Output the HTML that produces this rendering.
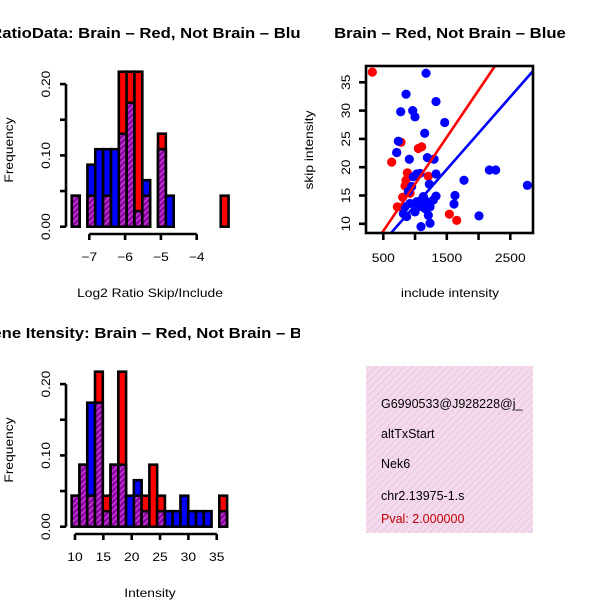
<!DOCTYPE html>
<html><head><meta charset="utf-8"><style>
html,body{margin:0;padding:0;background:#fff;}
svg{display:block;font-family:"Liberation Sans",sans-serif;}
</style></head><body>
<svg id="s" width="600" height="600" xmlns="http://www.w3.org/2000/svg">
<defs>
<pattern id="hatch" width="4" height="4" patternUnits="userSpaceOnUse" patternTransform="rotate(45)">
<rect width="4" height="4" fill="#8c00a8"/><rect width="1.5" height="4" fill="#c040c8"/>
</pattern>
<pattern id="pinkhatch" width="5" height="5" patternUnits="userSpaceOnUse" patternTransform="rotate(45)">
<rect width="5" height="5" fill="#f8d8f0"/><rect width="1.2" height="5" fill="#e0d0d8"/>
</pattern>
<clipPath id="c1"><rect x="0" y="0" width="300" height="300"/></clipPath>
<clipPath id="c3"><rect x="0" y="300" width="300" height="300"/></clipPath>
<clipPath id="cs"><rect x="366" y="66" width="167" height="167"/></clipPath>
<clipPath id="cb"><rect x="366" y="366" width="167" height="167"/></clipPath>
</defs>
<g id="p1" clip-path="url(#c1)"></g>
<g id="p2"></g>
<g id="p3" clip-path="url(#c3)"></g>
<g id="p4">
<rect x="366" y="366" width="167" height="167" fill="url(#pinkhatch)"/>
<g clip-path="url(#cb)" font-size="12.5">
<text x="381" y="408" class="noscale">G6990533@J928228@j_</text>
<text x="381" y="438" class="noscale">altTxStart</text>
<text x="381" y="468" class="noscale">Nek6</text>
<text x="381" y="500" class="noscale">chr2.13975-1.s</text>
<text x="381" y="523" class="noscale" fill="#c00000">Pval: 2.000000</text>
</g>
</g>
</svg>
<script>
// ---- Histogram 1 data (Log2 ratio) ----
const h1Start = -7.49, h1Width = 0.219;
const h1Red  = [1,0,1,0,1,0,5,5,5,1,0,3,0,0,0,0,0,0,0,1];
const h1Blue = [2,0,4,5,5,5,6,8,1,3,0,5,2,0,0,0,0,0,0,0];
const h1XTicks = [-7,-6,-5,-4];
const hYTicks = [0,0.05,0.10,0.15,0.20];
const hYLabels = ["0.00","","0.10","","0.20"];
// ---- Histogram 2 data (Intensity) ----
const h2Start = 9.42, h2Width = 1.37;
const h2Red  = [1,2,1,5,1,2,5,0,1,1,2,1,0,0,0,0,0,0,0,1];
const h2Blue = [2,4,8,8,1,4,4,2,3,1,0,1,1,1,2,1,1,1,0,1];
const h2XTicks = [10,15,20,25,30,35];
const nRed = 23, nBlue = 46;
// ---- Scatter data ----
const redX = [327,779,711,632,1052,1104,879,858,842,1209,805,721,1540,1656,921];
const redY = [36.8,24.4,22.6,20.9,23.3,23.6,19.0,17.7,16.7,18.4,14.7,13.0,11.7,10.6,15.4];
const blueX = [1173,858,1330,774,963,999,1467,1152,737,711,910,1194,1299,1330,2170,2270,1771,2769,1225,1629,1614,1330,973,1026,1078,947,894,1131,1026,921,842,816,1236,1209,1236,1094,2007,1157,1052,999,868,1104,1183,1288];
const blueY = [36.6,32.9,31.6,29.8,30.0,28.9,27.9,26.0,24.6,22.6,21.4,21.7,21.4,18.8,19.5,19.5,17.7,16.8,17.0,15.0,13.5,14.9,18.3,18.8,18.9,16.6,15.7,14.8,13.9,13.6,13.0,11.8,13.0,11.5,10.1,9.5,11.4,12.7,13.0,12.1,11.3,14.2,13.9,14.2];
const redLine = [0.44, 0.01658];
const blueLine = [0.42, 0.0128];
const sXTicks = [500,1000,1500,2000,2500];
const sXLabels = ["500","","1500","","2500"];
const sYTicks = [10,15,20,25,30,35];

const NS="http://www.w3.org/2000/svg";
function mk(parent,tag,attrs,text){const e=document.createElementNS(NS,tag);for(const k in attrs)e.setAttribute(k,attrs[k]);if(text!==undefined)e.textContent=text;parent.appendChild(e);return e;}

function hist(g, oy, start, w, red, blue, xTicks, x0v, x0p, pxPer, xLabel, title, titleX, name){
  const base = oy+226.7;
  const x = v => x0p + (v - x0v) * pxPer;
  const y = v => base - v*713;
  const tt=mk(g,'text',{x:titleX,y:oy+38,'text-anchor':'middle','font-size':'14.5','font-weight':'bold'},title);
  
  for(let i=0;i<red.length;i++){
    const r=red[i]/nRed, b=blue[i]/nBlue;
    if(r===0&&b===0) continue;
    const xa=x(start+i*w), xb=x(start+(i+1)*w);
    const hi=Math.max(r,b), lo=Math.min(r,b);
    const big=mk(g,'rect',{x:xa,y:y(hi),width:xb-xa,height:base-y(hi),fill:r>=b?'#ff0000':'#0000ff',stroke:'#000','stroke-width':2.6});
    
    
    if(lo>0){
      const p=mk(g,'rect',{x:xa,y:y(lo),width:xb-xa,height:base-y(lo),fill:'url(#hatch)',stroke:'#000','stroke-width':2.6});
      
      
    }
  }
  mk(g,'line',{x1:66,x2:66,y1:y(0),y2:y(0.2),stroke:'#000','stroke-width':2.6});
  hYTicks.forEach((t,i)=>{
    mk(g,'line',{x1:60,x2:66,y1:y(t),y2:y(t),stroke:'#000','stroke-width':2.6});
    if(hYLabels[i]) mk(g,'text',{x:0,y:0,transform:`translate(50,${y(t)}) rotate(-90)`,'text-anchor':'middle','font-size':'12'},hYLabels[i]);
  });
  mk(g,'text',{x:0,y:0,transform:`translate(13,${oy+150}) rotate(-90)`,'text-anchor':'middle','font-size':'12'},'Frequency');
  const ay=oy+234;
  mk(g,'line',{x1:x(xTicks[0]),x2:x(xTicks[xTicks.length-1]),y1:ay,y2:ay,stroke:'#000','stroke-width':2.6});
  xTicks.forEach(t=>{
    mk(g,'line',{x1:x(t),x2:x(t),y1:ay,y2:ay+6,stroke:'#000','stroke-width':2.6});
    mk(g,'text',{x:x(t),y:oy+261,'text-anchor':'middle','font-size':'12'},String(t).replace('-','\u2212'));
  });
  mk(g,'text',{x:150,y:oy+297,'text-anchor':'middle','font-size':'12'},xLabel);
}
hist(document.getElementById('p1'),0,h1Start,h1Width,h1Red,h1Blue,h1XTicks,-7,89.3,35.8,'Log2 Ratio Skip/Include','RatioData: Brain \u2013 Red, Not Brain \u2013 Blue',150,'ratio-hist');
hist(document.getElementById('p3'),300,h2Start,h2Width,h2Red,h2Blue,h2XTicks,10,75,5.67,'Intensity','Exon/Gene Itensity: Brain \u2013 Red, Not Brain \u2013 Blue',130,'intensity-hist');

(function(){
  const g=document.getElementById('p2');
  const sx=v=>383.3+(v-500)*0.0635;
  const sy=v=>82.3-(v-35)*5.66;
  mk(g,'text',{x:450,y:38,'text-anchor':'middle','font-size':'14.5','font-weight':'bold'},'Brain \u2013 Red, Not Brain \u2013 Blue');
  const pts=mk(g,'g',{'clip-path':'url(#cs)'});
  for(let i=0;i<redX.length;i++){
    const c=mk(pts,'circle',{cx:sx(redX[i]),cy:sy(redY[i]),r:4.6,fill:'#ff0000'});
    
    
  }
  for(let i=0;i<blueX.length;i++){
    const c=mk(pts,'circle',{cx:sx(blueX[i]),cy:sy(blueY[i]),r:4.6,fill:'#0000ff'});
    
    
  }
  [[redLine,'#ff0000','brain-fit-line'],[blueLine,'#0000ff','not-brain-fit-line']].forEach(([l,col,nm])=>{
    const a=200,b=3000;
    const ln=mk(pts,'line',{x1:sx(a),y1:sy(l[0]+l[1]*a),x2:sx(b),y2:sy(l[0]+l[1]*b),stroke:col,'stroke-width':2.6});
    
    
  });
  mk(g,'rect',{x:366,y:66,width:167,height:167,fill:'none',stroke:'#000','stroke-width':2.6});
  sXTicks.forEach((t,i)=>{
    mk(g,'line',{x1:sx(t),x2:sx(t),y1:234,y2:240,stroke:'#000','stroke-width':2.6});
    if(sXLabels[i]) mk(g,'text',{x:sx(t),y:262,'text-anchor':'middle','font-size':'12'},sXLabels[i]);
  });
  sYTicks.forEach(t=>{
    mk(g,'line',{x1:359,x2:366,y1:sy(t),y2:sy(t),stroke:'#000','stroke-width':2.6});
    mk(g,'text',{x:0,y:0,transform:`translate(350,${sy(t)}) rotate(-90)`,'text-anchor':'middle','font-size':'12'},String(t));
  });
  mk(g,'text',{x:450,y:297,'text-anchor':'middle','font-size':'12'},'include intensity');
  mk(g,'text',{x:0,y:0,transform:'translate(313,150) rotate(-90)','text-anchor':'middle','font-size':'12'},'skip intensity');
})();

// widen text to match reference font metrics
document.querySelectorAll('text').forEach(t=>{
  if(t.classList.contains('noscale')) return;
  const L=t.getComputedTextLength();
  if(L>0){t.setAttribute('textLength',(L*1.15).toFixed(1));t.setAttribute('lengthAdjust','spacingAndGlyphs');}
});
</script>
</body></html>
